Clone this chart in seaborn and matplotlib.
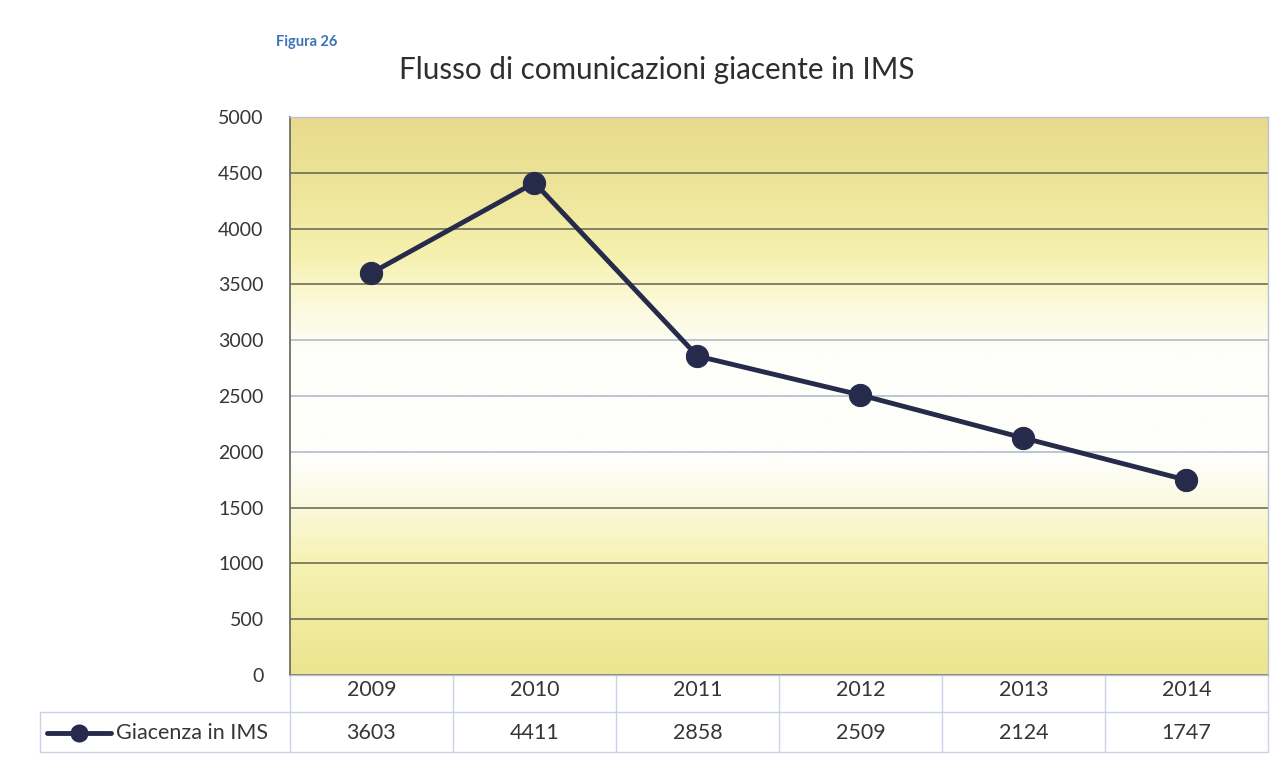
import numpy as np
import pandas as pd
import matplotlib
matplotlib.use("Agg")
import matplotlib.pyplot as plt
import matplotlib.transforms as mtransforms
from matplotlib.colors import LinearSegmentedColormap
from matplotlib.lines import Line2D
import seaborn as sns

# Data
years = ["2009", "2010", "2011", "2012", "2013", "2014"]
giacenza = [3603, 4411, 2858, 2509, 2124, 1747]
y_ticks = [0, 500, 1000, 1500, 2000, 2500, 3000, 3500, 4000, 4500, 5000]
series_label = "Giacenza in IMS"
title = "Flusso di comunicazioni giacente in IMS"
figure_label = "Figura 26"

sns.set_style("white")
plt.rcParams["font.family"] = ["Lato", "DejaVu Sans"]

df = pd.DataFrame({"anno": years, "giacenza": giacenza})

LINE_COL = "#262a4b"
TEXT_COL = "#363636"
TABLE_COL = "#c9d3e6"

fig = plt.figure(figsize=(12.82, 7.79), dpi=100)
ax = fig.add_axes([0.2262, 0.1335, 0.7628, 0.7163])

# yellow / white / yellow vertical gradient behind the plot area
stops = [
    (0.00, "#ebe58f"),
    (0.10, "#f0eb9f"),
    (0.20, "#f6f2b4"),
    (0.30, "#fbf9dc"),
    (0.38, "#fefefa"),
    (0.58, "#fefefa"),
    (0.67, "#fbf9d8"),
    (0.75, "#f6f1b0"),
    (0.86, "#eee69b"),
    (1.00, "#e8da8d"),
]
cmap = LinearSegmentedColormap.from_list("bg", stops)
grad = np.linspace(0, 1, 256).reshape(-1, 1)
ax.imshow(grad, cmap=cmap, aspect="auto", extent=[0, 1, 0, 1],
          transform=ax.transAxes, origin="lower", zorder=0)

sns.lineplot(data=df, x="anno", y="giacenza", ax=ax, color=LINE_COL,
             linewidth=3.5, marker="o", markersize=16,
             markeredgecolor=LINE_COL, legend=False, zorder=3)

ax.set_xlim(-0.5, len(years) - 0.5)
ax.set_ylim(0, 5000)
ax.set_yticks(y_ticks)
ax.set_yticklabels([str(t) for t in y_ticks], fontsize=14, color=TEXT_COL)
ax.tick_params(axis="y", length=0, pad=19)
ax.set_xticks(range(len(years)))
ax.set_xticklabels([])
ax.tick_params(axis="x", length=0)
ax.set_xlabel("")
ax.set_ylabel("")

# gridlines: olive in the yellow band, pale blue in the white band
ax.yaxis.grid(True)
for t, gl in zip(y_ticks, ax.get_ygridlines()):
    if 2000 <= t <= 3000:
        gl.set_color("#a9b5c9")
        gl.set_linewidth(1.1)
    else:
        gl.set_color("#6e6e58")
        gl.set_linewidth(1.2)

for side in ["top", "right", "bottom"]:
    ax.spines[side].set_color("#b8c2d4")
    ax.spines[side].set_linewidth(1.0)
ax.spines["left"].set_color("#6f6f62")
ax.spines["left"].set_linewidth(1.3)

# data table underneath
trans = mtransforms.blended_transform_factory(ax.transData, ax.transAxes)
row1_y, row2_y = -0.027, -0.104
row_sep, row_bottom = -0.066, -0.138
left_cell = -0.2556

for i, (yr, val) in enumerate(zip(years, giacenza)):
    ax.text(i, row1_y, yr, transform=trans, ha="center", va="center",
            fontsize=15.5, color=TEXT_COL, clip_on=False)
    ax.text(i, row2_y, str(val), transform=trans, ha="center", va="center",
            fontsize=15.5, color=TEXT_COL, clip_on=False)

for i in range(len(years) - 1):
    ax.add_line(Line2D([i + 0.5, i + 0.5], [0, row_bottom], transform=trans,
                       color=TABLE_COL, lw=1, clip_on=False))
ax.add_line(Line2D([0, 0], [0, row_bottom], transform=ax.transAxes,
                   color=TABLE_COL, lw=1, clip_on=False))
ax.add_line(Line2D([1, 1], [0, row_bottom], transform=ax.transAxes,
                   color=TABLE_COL, lw=1, clip_on=False))
ax.add_line(Line2D([left_cell, 1], [row_sep, row_sep], transform=ax.transAxes,
                   color=TABLE_COL, lw=1, clip_on=False))
ax.add_line(Line2D([left_cell, 1], [row_bottom, row_bottom], transform=ax.transAxes,
                   color=TABLE_COL, lw=1, clip_on=False))
ax.add_line(Line2D([left_cell, left_cell], [row_sep, row_bottom], transform=ax.transAxes,
                   color=TABLE_COL, lw=1, clip_on=False))

# legend key in the row header
ax.add_line(Line2D([-0.2485, -0.183], [row2_y, row2_y], transform=ax.transAxes,
                   color=LINE_COL, lw=3.5, clip_on=False))
ax.add_line(Line2D([-0.216], [row2_y], transform=ax.transAxes, color=LINE_COL,
                   marker="o", markersize=12, clip_on=False))
ax.text(-0.178, row2_y, series_label, transform=ax.transAxes, ha="left",
        va="center", fontsize=15.5, color=TEXT_COL, clip_on=False)

fig.text(0.5125, 0.910, title, ha="center", va="center", fontsize=21.3, color="#2e2e2e")
fig.text(0.2153, 0.946, figure_label, ha="left", va="center", fontsize=10.5,
         fontweight="bold", color="#3d72b8")

fig.savefig("out.png", dpi=100, facecolor="white")
